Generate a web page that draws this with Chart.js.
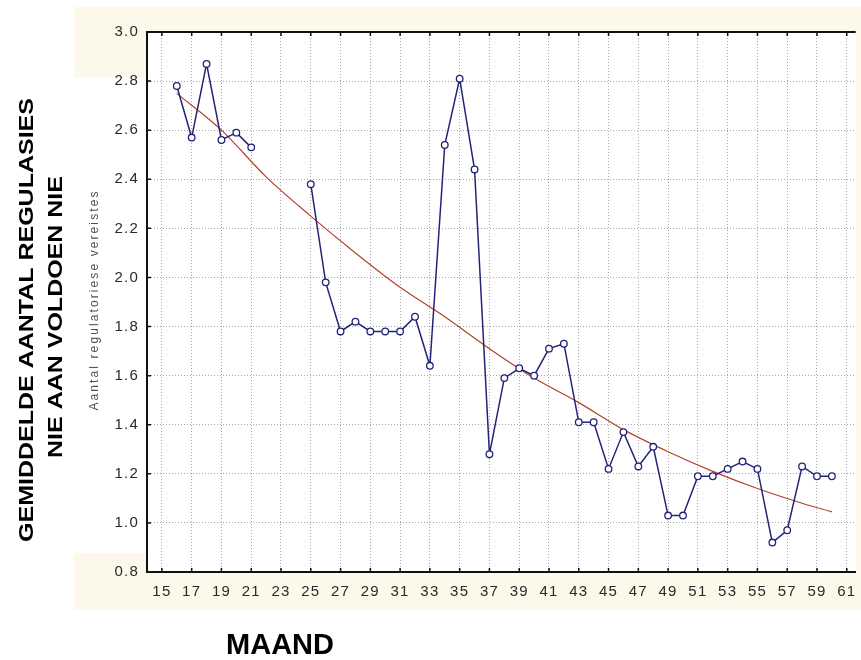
<!DOCTYPE html>
<html>
<head>
<meta charset="utf-8">
<script src="https://cdn.jsdelivr.net/npm/chart.js@4.4.1/dist/chart.umd.min.js"></script>
<style>
  html, body { margin: 0; padding: 0; background: #fff; }
  canvas { display: block; }
</style>
</head>
<body>
<canvas id="chart" width="861" height="660"></canvas>
<script>
(function () {
  // monthly mean, no data for months 22-24
  var months = [16, 17, 18, 19, 20, 21, 22, 23, 24, 25, 26, 27, 28, 29, 30, 31, 32, 33, 34, 35, 36, 37, 38,
    39, 40, 41, 42, 43, 44, 45, 46, 47, 48, 49, 50, 51, 52, 53, 54, 55, 56, 57, 58, 59, 60];
  var aantal = [2.78, 2.57, 2.87, 2.56, 2.59, 2.53, null, null, null, 2.38, 1.98, 1.78, 1.82, 1.78, 1.78, 1.78,
    1.84, 1.64, 2.54, 2.81, 2.44, 1.28, 1.59, 1.63, 1.60, 1.71, 1.73, 1.41, 1.41, 1.22, 1.37, 1.23, 1.31,
    1.03, 1.03, 1.19, 1.19, 1.22, 1.25, 1.22, 0.92, 0.97, 1.23, 1.19, 1.19];

  // fitted trend
  var trendMonths = [16, 19, 22, 25, 28, 31, 34, 37, 40, 43, 46, 49, 52, 55, 58, 60];
  var trendValues = [2.75, 2.60, 2.41, 2.25, 2.10, 1.96, 1.84, 1.71, 1.59, 1.49, 1.38, 1.29, 1.21, 1.14, 1.08, 1.045];

  var xTicks = [15, 17, 19, 21, 23, 25, 27, 29, 31, 33, 35, 37, 39, 41, 43, 45, 47, 49, 51, 53, 55, 57, 59, 61];
  var yTicks = [0.8, 1.0, 1.2, 1.4, 1.6, 1.8, 2.0, 2.2, 2.4, 2.6, 2.8, 3.0];

  var BLUE = "#23237a";
  var TREND = "#b5412e";
  var CREAM = "#fcf9ea";
  var FONT = "'Liberation Sans', Arial, sans-serif";

  function pairs(xs, ys) {
    return xs.map(function (x, i) { return { x: x, y: ys[i] }; });
  }

  function vertical(ctx, text, x, y, font, color, stretch, spacing) {
    ctx.save();
    ctx.translate(x, y);
    ctx.rotate(-Math.PI / 2);
    ctx.scale(stretch, 1);
    ctx.font = font;
    ctx.letterSpacing = spacing || "0px";
    ctx.textAlign = "center";
    ctx.textBaseline = "alphabetic";
    ctx.fillStyle = color;
    ctx.fillText(text, 0, 0);
    ctx.restore();
  }

  var frame = {
    id: "frame",
    beforeDraw: function (chart) {
      var ctx = chart.ctx, a = chart.chartArea;
      ctx.save();
      ctx.fillStyle = CREAM;
      ctx.fillRect(74, 7, chart.width - 74, 603);
      ctx.fillStyle = "#fff";
      ctx.fillRect(74, 78, a.left - 74, 475);
      ctx.fillRect(a.left, a.top, a.right - a.left, a.bottom - a.top);
      ctx.restore();
      // the original tick text is a little spread out
      ctx.letterSpacing = "1.2px";
    },
    beforeDatasetsDraw: function (chart) {
      var ctx = chart.ctx, a = chart.chartArea;
      var xs = chart.scales.x, ys = chart.scales.y;
      ctx.letterSpacing = "0px";
      ctx.save();
      ctx.strokeStyle = "#111";
      ctx.lineWidth = 2;
      ctx.beginPath();
      ctx.moveTo(a.left - 1, a.top);
      ctx.lineTo(a.right, a.top);
      ctx.stroke();
      ctx.lineWidth = 1.5;
      ctx.beginPath();
      xs.ticks.forEach(function (t) {
        var px = xs.getPixelForValue(t.value);
        ctx.moveTo(px, a.top);
        ctx.lineTo(px, a.top + 4);
        ctx.moveTo(px, a.bottom);
        ctx.lineTo(px, a.bottom - 4);
      });
      ys.ticks.forEach(function (t) {
        var py = ys.getPixelForValue(t.value);
        ctx.moveTo(a.left, py);
        ctx.lineTo(a.left + 4, py);
      });
      ctx.stroke();
      ctx.restore();
    },
    afterDraw: function (chart) {
      var ctx = chart.ctx, a = chart.chartArea;
      vertical(ctx, "Aantal regulatoriese vereistes", 98, (a.top + a.bottom) / 2 - 2,
        "12px " + FONT, "#505050", 1, "2.1px");
      vertical(ctx, "GEMIDDELDE AANTAL REGULASIES", 33, 320, "bold 21px " + FONT, "#000", 1.19);
      vertical(ctx, "NIE AAN VOLDOEN NIE", 62, 317, "bold 21px " + FONT, "#000", 1.19);
      ctx.save();
      ctx.font = "bold 29px " + FONT;
      ctx.textAlign = "center";
      ctx.fillStyle = "#000";
      ctx.fillText("MAAND", 280, 654);
      ctx.restore();
    }
  };

  new Chart(document.getElementById("chart"), {
    type: "line",
    data: {
      datasets: [{
        label: "Aantal",
        data: pairs(months, aantal),
        borderColor: BLUE,
        borderWidth: 1.5,
        pointRadius: 3.3,
        pointBorderWidth: 1.3,
        pointBackgroundColor: "#fff",
        pointBorderColor: BLUE,
        spanGaps: false,
        tension: 0
      }, {
        label: "Trend",
        data: pairs(trendMonths, trendValues),
        borderColor: TREND,
        borderWidth: 1.2,
        pointRadius: 0,
        cubicInterpolationMode: "monotone"
      }]
    },
    options: {
      responsive: false,
      animation: false,
      layout: { padding: { left: 0, right: 0, top: 32, bottom: 0 } },
      plugins: { legend: { display: false }, tooltip: { enabled: false } },
      scales: {
        x: {
          type: "linear",
          min: 14,
          max: 61.6,
          afterBuildTicks: function (s) { s.ticks = xTicks.map(function (v) { return { value: v }; }); },
          afterFit: function (s) { s.height = 88; s.paddingLeft = 0; s.paddingRight = 0; },
          ticks: {
            autoSkip: false,
            maxRotation: 0,
            padding: 11,
            color: "#2a2a2a",
            font: { family: FONT, size: 15 },
            callback: function (v) { return String(v); }
          },
          grid: { color: "#a9a9a9", lineWidth: 1, drawTicks: false },
          border: { color: "#111", width: 2, dash: [1, 2] }
        },
        y: {
          min: 0.8,
          max: 3.0,
          afterBuildTicks: function (s) { s.ticks = yTicks.map(function (v) { return { value: v }; }); },
          afterFit: function (s) { s.width = 147; },
          ticks: {
            padding: 8,
            color: "#2a2a2a",
            font: { family: FONT, size: 15 },
            callback: function (v) { return v.toFixed(1); }
          },
          grid: { color: "#a9a9a9", lineWidth: 1, drawTicks: false },
          border: { color: "#111", width: 2, dash: [1, 2] }
        }
      }
    },
    plugins: [frame]
  });
})();
</script>
</body>
</html>
